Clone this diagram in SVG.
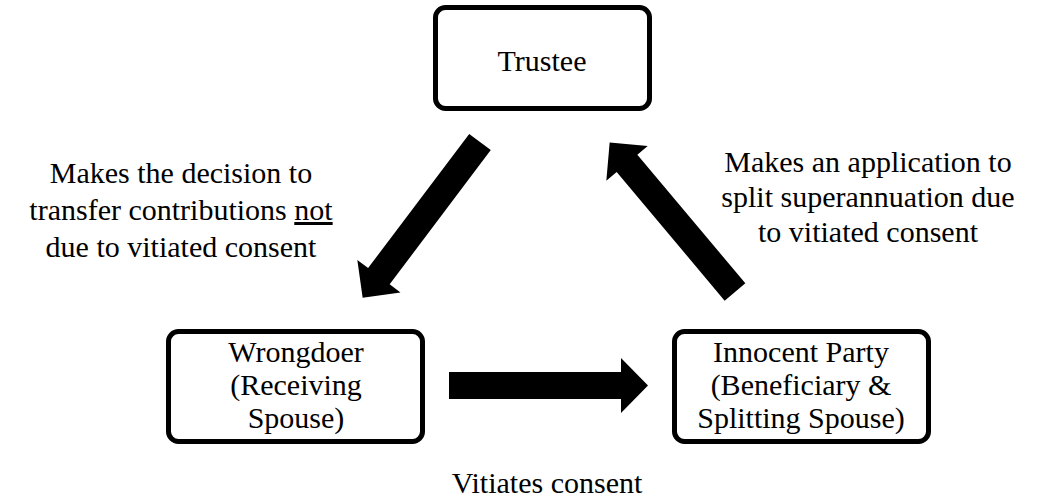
<svg xmlns="http://www.w3.org/2000/svg" width="1044" height="499" viewBox="0 0 1044 499">
<style>
.box{fill:#fff;stroke:#000;stroke-width:5}
.t{font-family:"Liberation Serif","Tinos","Times New Roman","DejaVu Serif",serif;font-size:30px;fill:#000;text-anchor:middle}
.arr{fill:#000}
</style>
<rect width="1044" height="499" fill="#fff"/>
<g id="trustee">
<rect class="box" x="435.5" y="7.5" width="214" height="101" rx="10"/>
<text class="t" x="542" y="71">Trustee</text>
</g>
<g id="wrongdoer">
<rect class="box" x="168.5" y="331.5" width="254" height="110" rx="10"/>
<text class="t" x="296" y="362">Wrongdoer</text>
<text class="t" x="296" y="395">(Receiving</text>
<text class="t" x="296" y="428">Spouse)</text>
</g>
<g id="innocent">
<rect class="box" x="674.5" y="331.5" width="254" height="110" rx="10"/>
<text class="t" x="801" y="362">Innocent Party</text>
<text class="t" x="801" y="395">(Beneficiary &amp;</text>
<text class="t" x="801" y="428">Splitting Spouse)</text>
</g>
<g id="connectors">
<polygon class="arr" points="449,372 621,372 621,358 648,385.5 621,413 621,399 449,399"/>
<polygon class="arr" transform="translate(735,292) rotate(-130)" points="0,-13.5 168,-13.5 168,-27 195,0 168,27 168,13.5 0,13.5"/>
<polygon class="arr" transform="translate(480,142) rotate(127)" points="0,-13.5 168,-13.5 168,-27 195,0 168,27 168,13.5 0,13.5"/>
</g>
<g id="labels">
<text class="t" x="181" y="183">Makes the decision to</text>
<text class="t" x="181" y="220">transfer contributions <tspan text-decoration="underline">not</tspan></text>
<text class="t" x="181" y="257">due to vitiated consent</text>
<text class="t" x="868" y="172">Makes an application to</text>
<text class="t" x="868" y="207">split superannuation due</text>
<text class="t" x="868" y="242">to vitiated consent</text>
<text class="t" x="547" y="493">Vitiates consent</text>
</g>
</svg>
